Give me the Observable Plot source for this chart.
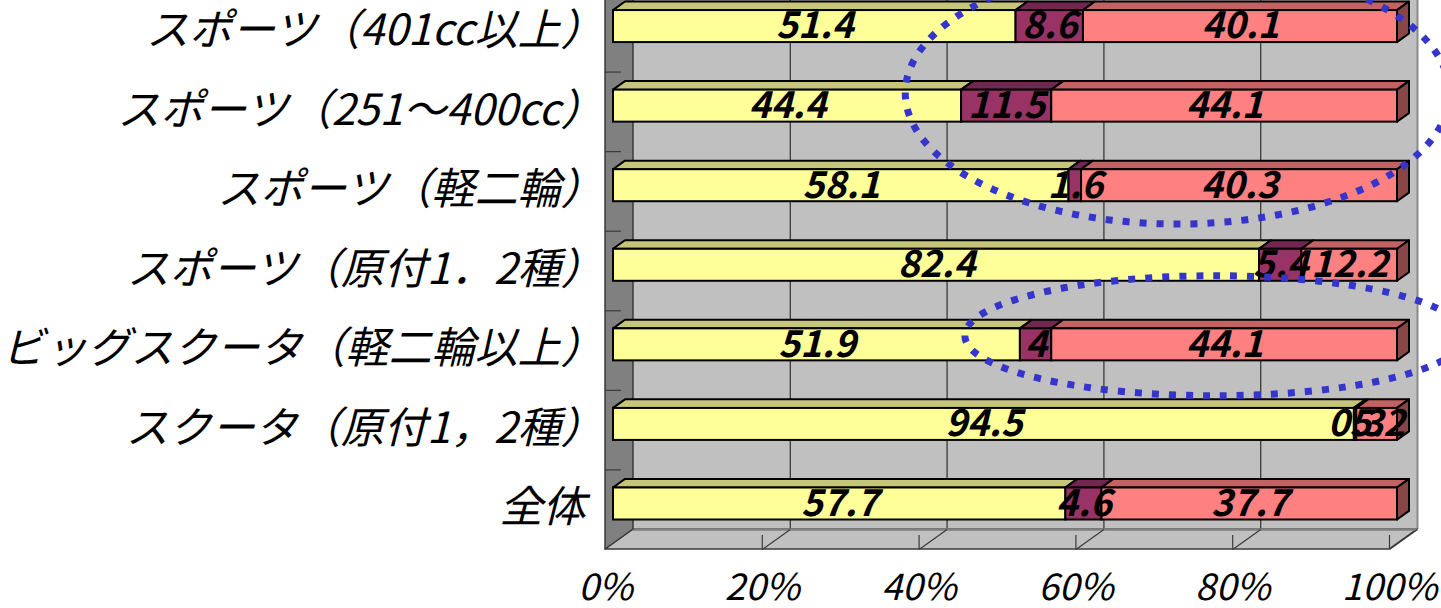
<!DOCTYPE html>
<html><head><meta charset="utf-8">
<script src="https://cdn.jsdelivr.net/npm/d3@7"></script>
<script src="https://cdn.jsdelivr.net/npm/@observablehq/plot@0.6"></script>
<style>html,body{margin:0;padding:0;background:#fff;overflow:hidden;} svg{display:block}</style>
</head><body><div id="chart"></div>
<script>
// ---- data ----
const categories = ["スポーツ（401cc以上）","スポーツ（251～400cc）","スポーツ（軽二輪）","スポーツ（原付1．2種）","ビッグスクータ（軽二輪以上）","スクータ（原付1，2種）","全体"];
const seg1 = [51.4, 44.4, 58.1, 82.4, 51.9, 94.5, 57.7];
const seg2 = [8.6, 11.5, 1.6, 5.4, 4, 0.3, 4.6];
const seg3 = [40.1, 44.1, 40.3, 12.2, 44.1, 5.2, 37.7];
const xTicks = [0, 20, 40, 60, 80, 100];

// ---- styles ----
const frontColors = ["#FFFF99", "#993366", "#FF8080"];
const topColors = ["#C6C67A", "#732650", "#C26262"];
const sideColors = ["#A0A070", "#5A1E3E", "#884646"];
const FONT = "'Noto Sans CJK JP', 'Noto Sans', sans-serif";

// ---- geometry (3D projection helpers) ----
const W = 1441, H = 608;
const X_DOMAIN = [0, 100], X_RANGE = [605, 1389];
const Y_DOMAIN = [-0.5, categories.length - 0.5], Y_RANGE = [-8, 549];
const PX = (X_RANGE[1] - X_RANGE[0]) / (X_DOMAIN[1] - X_DOMAIN[0]);
const PY = (Y_RANGE[1] - Y_RANGE[0]) / (Y_DOMAIN[1] - Y_DOMAIN[0]);
const SLOPE = 20 / 28;
const off = d => ({dx: d / PX, dy: -d * SLOPE / PY});
const F = off(8), B = off(20), BW = off(28);
const HH = 16 / PY;
const Y0 = Y_DOMAIN[0], Y1 = Y_DOMAIN[1];

const segs = [];
categories.forEach((c, i) => {
  const vals = [seg1[i], seg2[i], seg3[i]];
  const tot = d3.sum(vals);
  let s = 0;
  vals.forEach((v, k) => {
    const w = v / tot * 100;
    segs.push({row: i, k, v, s, e: s + w, id: i * 3 + k});
    s += w;
  });
});
const lastSegs = segs.filter(d => d.k === 2);

const topPts = segs.flatMap(d => [
  {id: d.id, k: d.k, y: d.row - HH + F.dy, x1: d.s + F.dx, x2: d.e + F.dx},
  {id: d.id, k: d.k, y: d.row - HH + B.dy, x1: d.s + B.dx, x2: d.e + B.dx}
]);
const sidePts = lastSegs.flatMap(d => [
  {id: d.id, k: d.k, x: d.e + F.dx, y1: d.row - HH + F.dy, y2: d.row + HH + F.dy},
  {id: d.id, k: d.k, x: d.e + B.dx, y1: d.row - HH + B.dy, y2: d.row + HH + B.dy}
]);

const leftWall = [{x: X_DOMAIN[0], y1: Y0 - 1, y2: Y1}, {x: X_DOMAIN[0] + BW.dx, y1: Y0 - 1 + BW.dy, y2: Y1 + BW.dy}];
const floor = [{y: Y1, x1: X_DOMAIN[0], x2: X_DOMAIN[1]}, {y: Y1 + BW.dy, x1: X_DOMAIN[0] + BW.dx, x2: X_DOMAIN[1] + BW.dx}];
const boundaries = d3.range(1, categories.length).map(i => i - 0.5);
const catRows = categories.map((c, i) => ({c, i, paren: c.endsWith("）")}));

// annotation ellipses (data coords)
const ellipses = [{cx: 73, cy: 0.77, rx: 34.7, ry: 1.646}, {cx: 77.8, cy: 3.82, rx: 31.9, ry: 0.754}];
function ellipseMark(list) {
  return (index, scales) => {
    const g = d3.create("svg:g");
    for (const e of list) {
      const cx = scales.x(e.cx), cy = scales.y(e.cy);
      g.append("ellipse")
        .attr("cx", cx).attr("cy", cy)
        .attr("rx", Math.abs(scales.x(e.cx + e.rx) - cx))
        .attr("ry", Math.abs(scales.y(e.cy + e.ry) - cy))
        .attr("fill", "none").attr("stroke", "#3535CC")
        .attr("stroke-width", 7).attr("stroke-dasharray", "7 10");
    }
    return g.node();
  };
}

const catText = {x: X_DOMAIN[0], y: d => d.i, text: d => d.c, dy: -1, textAnchor: "end", fontSize: 43, fontStyle: "italic", fontFamily: FONT, fill: "#000"};

const chart = Plot.plot({
  width: W, height: H,
  margin: 0,
  style: {overflow: "hidden", background: "#fff"},
  x: {domain: X_DOMAIN, range: X_RANGE, axis: null},
  y: {domain: Y_DOMAIN, range: Y_RANGE, axis: null},
  color: {type: "identity"},
  marks: [
    // back wall
    Plot.rect([0], {x1: X_DOMAIN[0] + BW.dx, x2: X_DOMAIN[1] + BW.dx, y1: Y0 - 1, y2: Y1 + BW.dy, fill: "#C0C0C0"}),
    // back wall gridlines
    Plot.ruleX(xTicks.slice(1, -1), {x: d => d + BW.dx, y1: Y0 - 1, y2: Y1 + BW.dy, stroke: "#3a3a3a", strokeWidth: 1.3}),
    Plot.ruleX([X_DOMAIN[1]], {x: d => d + BW.dx, y1: Y0 - 1, y2: Y1 + BW.dy, stroke: "#8a8a8a", strokeWidth: 2}),
    // floor
    Plot.areaX(floor, {y: "y", x1: "x1", x2: "x2", fill: "#C0C0C0", stroke: "#3a3a3a", strokeWidth: 1.5, curve: "linear"}),
    Plot.ruleY([Y1 + BW.dy], {x1: X_DOMAIN[0] + BW.dx, x2: X_DOMAIN[1] + BW.dx, stroke: "#808080", strokeWidth: 2.5}),
    Plot.link(xTicks.slice(1), {x1: d => d + BW.dx, y1: Y1 + BW.dy, x2: d => d, y2: Y1, stroke: "#3a3a3a", strokeWidth: 1.2}),
    Plot.ruleX(xTicks.slice(1), {x: d => d, y1: Y1, y2: Y1 - 14 / PY, stroke: "#3a3a3a", strokeWidth: 1.2}),
    // left wall
    Plot.areaY(leftWall, {x: "x", y1: "y1", y2: "y2", fill: "#808080", stroke: "#3a3a3a", strokeWidth: 1.5, curve: "linear"}),
    Plot.ruleY(boundaries, {y: d => d, x1: X_DOMAIN[0], x2: X_DOMAIN[0] + 16 / PX, stroke: "#3a3a3a", strokeWidth: 1.2}),
    // bars: top faces
    Plot.areaX(topPts, {y: "y", x1: "x1", x2: "x2", z: "id", fill: d => topColors[d.k], stroke: "#000", strokeWidth: 2, curve: "linear"}),
    // bars: front faces
    Plot.rect(segs, {x1: d => d.s + F.dx, x2: d => d.e + F.dx, y1: d => d.row - HH + F.dy, y2: d => d.row + HH + F.dy, fill: d => frontColors[d.k], stroke: "#000", strokeWidth: 2}),
    // bars: right side faces
    Plot.areaY(sidePts, {x: "x", y1: "y1", y2: "y2", z: "id", fill: d => sideColors[d.k], stroke: "#000", strokeWidth: 2, curve: "linear"}),
    // value labels
    Plot.text(segs, {x: d => (d.s + d.e) / 2 + F.dx, y: d => d.row + F.dy, text: d => String(d.v), fontSize: 37, fontStyle: "italic", fontWeight: "bold", fontFamily: FONT, fill: "#000"}),
    // category labels
    Plot.text(catRows.filter(d => d.paren), {...catText, dx: -2}),
    Plot.text(catRows.filter(d => !d.paren), {...catText, dx: -20}),
    // x tick labels
    Plot.text(xTicks, {x: d => d, y: Y1, dy: 39, text: d => d + "%", fontSize: 37, fontStyle: "italic", fontFamily: FONT, fill: "#000"}),
    // annotation ellipses
    ellipseMark(ellipses)
  ]
});
document.getElementById("chart").appendChild(chart);
</script>
</body></html>
